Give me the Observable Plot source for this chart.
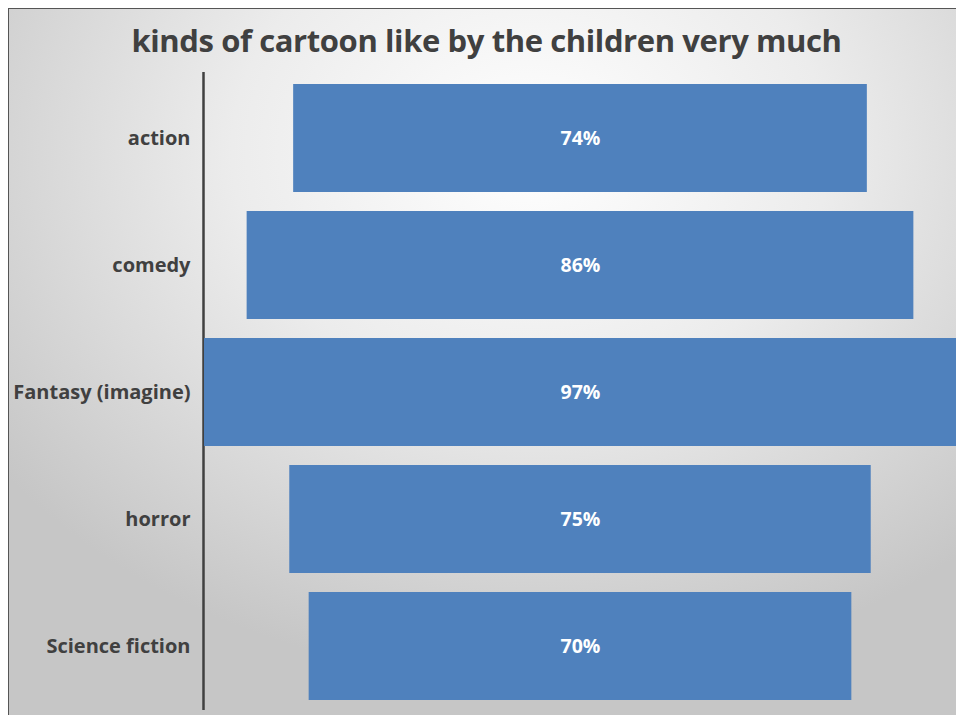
<!DOCTYPE html>
<html><head><meta charset="utf-8">
<script src="https://cdn.jsdelivr.net/npm/d3@7"></script>
<script src="https://cdn.jsdelivr.net/npm/@observablehq/plot@0.6"></script>
<style>
html,body{margin:0;padding:0;width:956px;height:715px;overflow:hidden;background:#fff;}
#bg{position:absolute;left:8px;top:8px;width:948px;height:707px;border-left:1.5px solid #555;border-top:1.5px solid #555;
background:radial-gradient(ellipse 70% 75% at 55% 20%, #ffffff 0%, #ececec 45%, #c6c6c6 100%);}
#title{position:absolute;left:0;top:19px;width:973px;text-align:center;font-family:"Open Sans",sans-serif;font-weight:700;font-size:31px;color:#404040;letter-spacing:-0.4px;}
#chart{position:absolute;left:0;top:72px;}
</style></head>
<body>
<div id="bg"></div>
<div id="title">kinds of cartoon like by the children very much</div>
<div id="chart"></div>
<script>
const categories = ["action","comedy","Fantasy (imagine)","horror","Science fiction"];
const values = [74,86,97,75,70];
const labels = ["74%","86%","97%","75%","70%"];
const data = categories.map((c,i)=>({cat:c, v:values[i], label:labels[i]}));
const maxV = d3.max(values);
const chart = Plot.plot({
  width:956, height:643,
  marginLeft:204, marginRight:0, marginTop:11, marginBottom:14,
  style:{background:"transparent", fontFamily:"'Open Sans',sans-serif"},
  x:{domain:[-maxV/2, maxV/2], axis:null},
  y:{domain:categories, padding:0.15, paddingOuter:0, label:null},
  marks:[
    Plot.ruleX([-maxV/2], {stroke:"#404040", strokeWidth:2.5, dx:-1, insetTop:-11, insetBottom:-9}),
    Plot.barX(data, {y:"cat", x1:d=>-d.v/2, x2:d=>d.v/2, fill:"#4f81bd"}),
    Plot.text(data, {y:"cat", x:0, text:"label", fill:"white", fontWeight:"bold", fontSize:19.5}),
    Plot.axisY({tickSize:0, tickPadding:14, fontSize:20, fontWeight:"bold", fill:"#404040", label:null})
  ]
});
document.getElementById("chart").appendChild(chart);
</script>
</body></html>
